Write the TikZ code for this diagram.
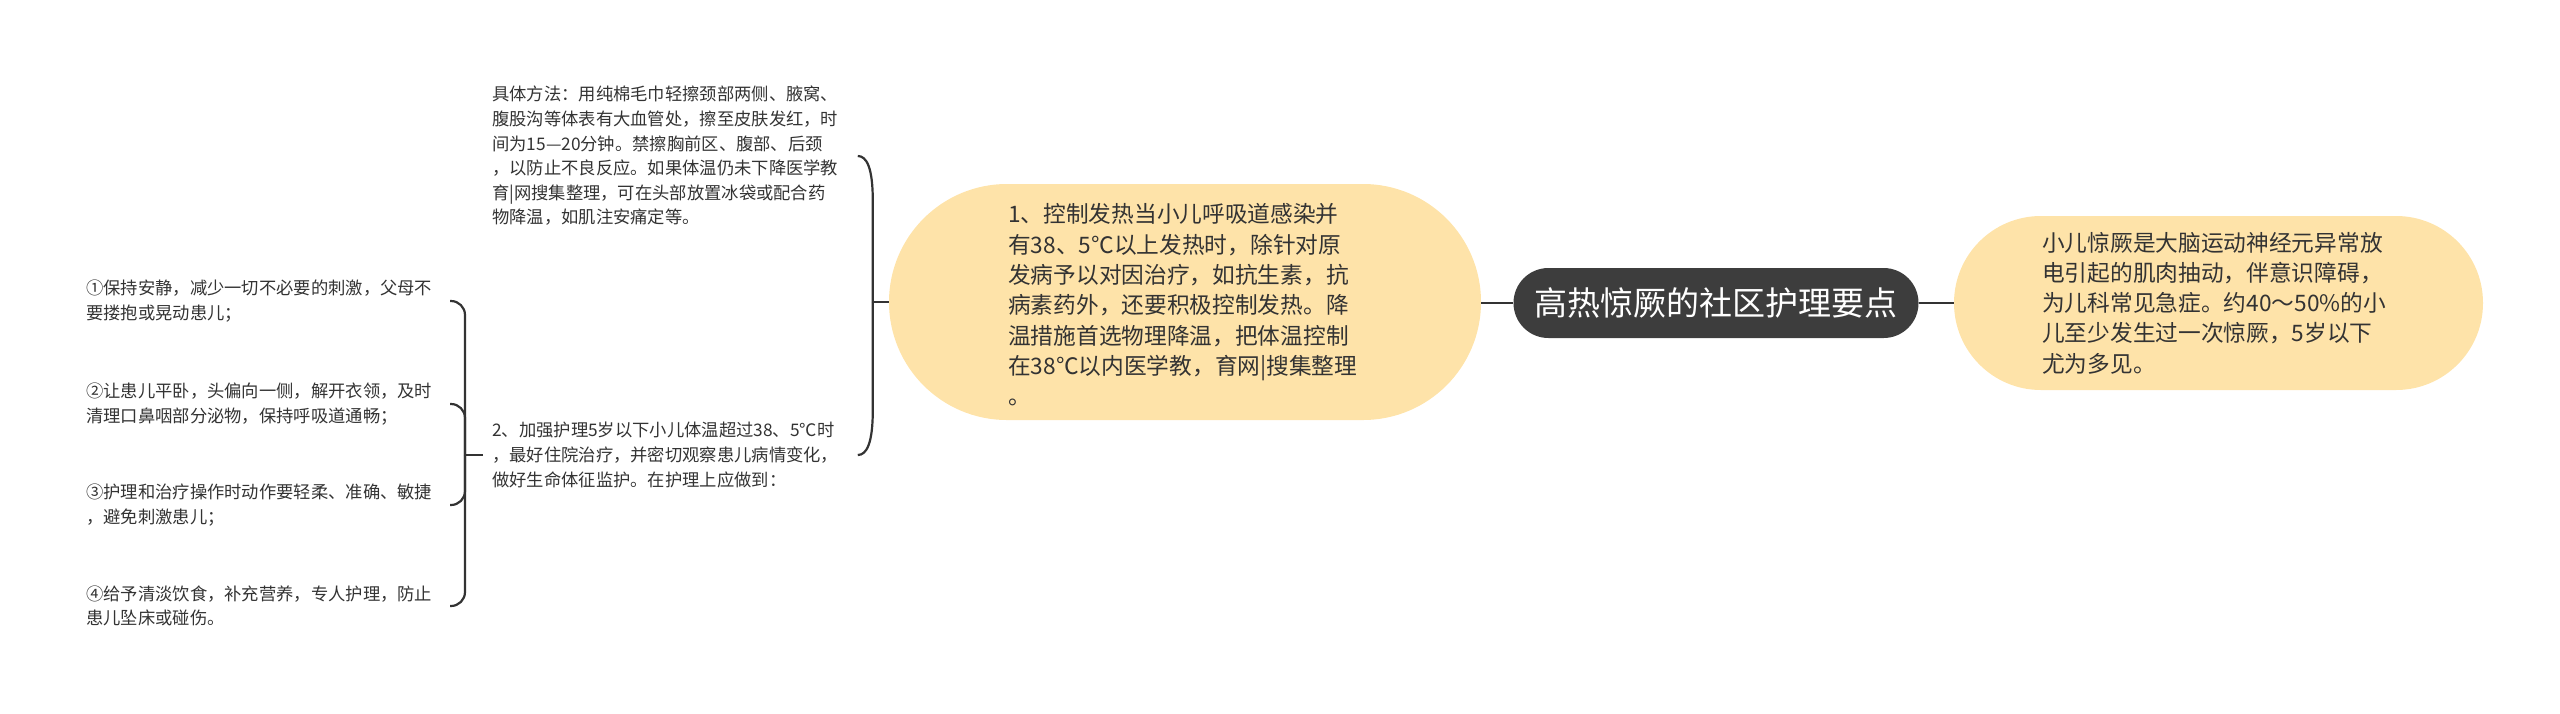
\documentclass[tikz,border=0pt]{standalone}
\usepackage{fontspec}
\setmainfont{Noto Sans CJK SC}
\usetikzlibrary{calc}
\definecolor{pillyellow}{HTML}{FEE3A9}
\definecolor{rootgray}{HTML}{3D3D3D}
\definecolor{txtgray}{HTML}{333333}
\definecolor{linegray}{HTML}{333333}
\tikzset{
  conn/.style={draw=linegray, line width=2.2pt},
  rootbox/.style={fill=rootgray, text=white, inner sep=0pt, minimum width=405pt, minimum height=70pt, rounded corners=34.9pt, font=\fontsize{33}{40}\selectfont},
  pill/.style={fill=pillyellow, inner sep=0pt},
  pilltext/.style={text=txtgray, inner sep=0pt, align=left, anchor=west, font=\fontsize{22.7}{30.3}\selectfont},
  small/.style={text=txtgray, inner sep=0pt, align=left, anchor=west, font=\fontsize{17.3}{24.6}\selectfont},
}
\begin{document}
\begin{tikzpicture}[x=1pt,y=-1pt]
\useasboundingbox (0,0) rectangle (2560,713);
\node[rootbox] (root) at (1716,303) {高热惊厥的社区护理要点};
\node[pill, minimum width=529pt, minimum height=174pt, rounded corners=86.9pt] (r1) at (2218.5,303) {};
\node[pilltext] (r1t) at (2042,303) {小儿惊厥是大脑运动神经元异常放\\电引起的肌肉抽动，伴意识障碍，\\为儿科常见急症。约40～50\%的小\\儿至少发生过一次惊厥，5岁以下\\尤为多见。};
\node[pill, minimum width=592pt, minimum height=236pt, rounded corners=117.9pt] (mid) at (1185,302) {};
\node[pilltext] (midt) at (1008,305) {1、控制发热当小儿呼吸道感染并\\有38、5℃以上发热时，除针对原\\发病予以对因治疗，如抗生素，抗\\病素药外，还要积极控制发热。降\\温措施首选物理降温，把体温控制\\在38℃以内医学教，育网|搜集整理\\。};
\node[small] (c1) at (492,156) {具体方法：用纯棉毛巾轻擦颈部两侧、腋窝、\\腹股沟等体表有大血管处，擦至皮肤发红，时\\间为15—20分钟。禁擦胸前区、腹部、后颈\\，以防止不良反应。如果体温仍未下降医学教\\育|网搜集整理，可在头部放置冰袋或配合药\\物降温，如肌注安痛定等。};
\node[small] (c2) at (492,455) {2、加强护理5岁以下小儿体温超过38、5℃时\\，最好住院治疗，并密切观察患儿病情变化，\\做好生命体征监护。在护理上应做到：};
\node[small] (d1) at (86,301) {①保持安静，减少一切不必要的刺激，父母不\\要搂抱或晃动患儿；};
\node[small] (d2) at (86,404) {②让患儿平卧，头偏向一侧，解开衣领，及时\\清理口鼻咽部分泌物，保持呼吸道通畅；};
\node[small] (d3) at (86,505) {③护理和治疗操作时动作要轻柔、准确、敏捷\\，避免刺激患儿；};
\node[small] (d4) at (86,606) {④给予清淡饮食，补充营养，专人护理，防止\\患儿坠床或碰伤。};
% root connectors
\draw[conn] (root.west) -- (root.west -| mid.east);
\draw[conn] (root.east) -- (root.east -| r1.west);
% brace 1
\draw[conn] (mid.west) -- ($(mid.west)+(-16,0)$) coordinate (j1);
\draw[conn] (j1) -- ($(j1 |- c1.center)+(0,45)$) .. controls ($(j1 |- c1.center)+(0,12)$) and ($(j1 |- c1.center)+(-6,0)$) .. ($(j1 |- c1.center)+(-15,0)$);
\draw[conn] (j1) -- ($(j1 |- c2.center)+(0,-45)$) .. controls ($(j1 |- c2.center)+(0,-12)$) and ($(j1 |- c2.center)+(-6,0)$) .. ($(j1 |- c2.center)+(-15,0)$);
% brace 2
\draw[conn] ($(c2.west)+(-9,0)$) -- ($(c2.west)+(-27,0)$) coordinate (j2);
\draw[conn, rounded corners=14pt] (j2) |- ($(j2 |- d1.center)+(-15,0)$);
\draw[conn, rounded corners=14pt] (j2) |- ($(j2 |- d2.center)+(-15,0)$);
\draw[conn, rounded corners=14pt] (j2) |- ($(j2 |- d3.center)+(-15,0)$);
\draw[conn, rounded corners=14pt] (j2) |- ($(j2 |- d4.center)+(-15,0)$);
\end{tikzpicture}
\end{document}
